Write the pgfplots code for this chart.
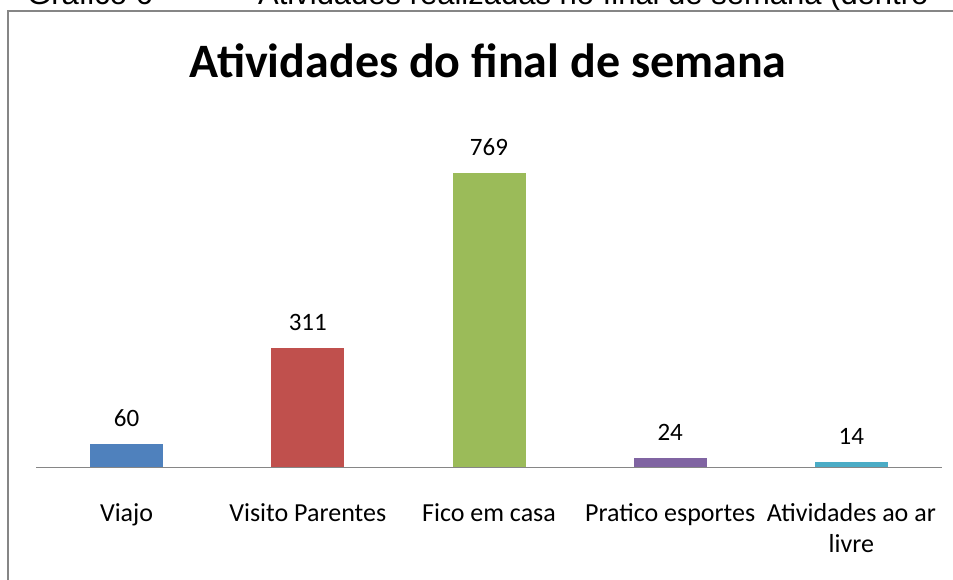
\documentclass[border=0pt]{standalone}
\usepackage{pgfplots}
\pgfplotsset{compat=1.18}
\usepackage{fontspec}
\setmainfont{Carlito}
\newfontfamily\arialf{Liberation Sans}
\definecolor{c1}{HTML}{4F81BD}
\definecolor{c2}{HTML}{C0504D}
\definecolor{c3}{HTML}{9BBB59}
\definecolor{c4}{HTML}{8064A2}
\definecolor{c5}{HTML}{4BACC6}
\definecolor{framegray}{HTML}{868686}
\begin{document}
\begin{tikzpicture}[x=1pt,y=1pt]
\useasboundingbox (0,0) rectangle (953,579);
\clip (0,0) rectangle (953,579);
\fill[white] (0,0) rectangle (953,579);
\node[anchor=base west, inner sep=0pt, font=\arialf\fontsize{31}{36}\selectfont] at (27,574) {Gráfico 6};
\node[anchor=base west, inner sep=0pt, font=\arialf\fontsize{31}{36}\selectfont] at (258,574) {Atividades realizadas no final de semana (dentro};
\draw[framegray, line width=2pt] (8,-5) -- (8,568) -- (960,568);
\node[anchor=base, inner sep=0pt, font=\bfseries\fontsize{48}{57}\selectfont] at (488,501) {Atividades do final de semana};
\begin{axis}[
  scale only axis, width=906pt, height=344.1pt,
  at={(36pt,112pt)}, anchor=south west,
  xmin=-0.5, xmax=4.5, ymin=0, ymax=900,
  axis x line=bottom, axis y line=none,
  x axis line style={-, draw=framegray, line width=1pt},
  xtick={0,1,2,3,4},
  xticklabels={Viajo, Visito Parentes, Fico em casa, Pratico esportes, {Atividades ao ar\\livre}},
  major tick length=0pt,
  xticklabel style={font=\fontsize{26}{31}\selectfont, align=center, anchor=north, inner sep=0pt, yshift=-36pt},
  ybar, bar width=73pt,
  nodes near coords,
  nodes near coords style={font=\fontsize{25}{30}\selectfont, anchor=south, inner sep=0pt, yshift=17pt, text=black},
  /pgf/number format/assume math mode=true,
  clip=false,
]
\addplot[fill=c1, draw=none, bar shift=0pt] coordinates {(0,60)};
\addplot[fill=c2, draw=none, bar shift=0pt] coordinates {(1,311)};
\addplot[fill=c3, draw=none, bar shift=0pt] coordinates {(2,769)};
\addplot[fill=c4, draw=none, bar shift=0pt] coordinates {(3,24)};
\addplot[fill=c5, draw=none, bar shift=0pt] coordinates {(4,14)};
\end{axis}
\end{tikzpicture}
\end{document}
